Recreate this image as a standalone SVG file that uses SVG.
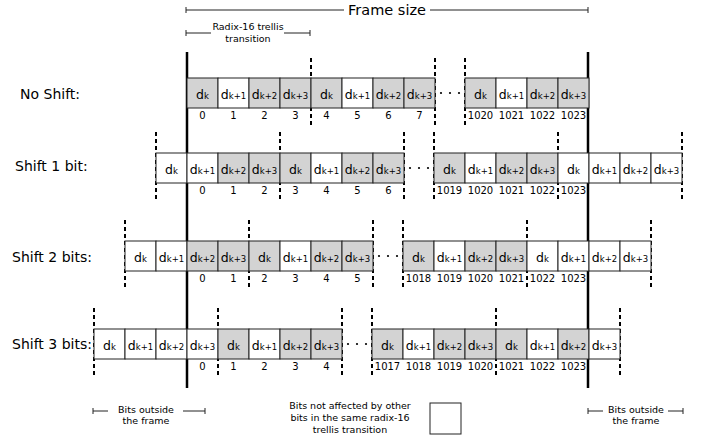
<svg xmlns="http://www.w3.org/2000/svg" width="702" height="443" viewBox="0 0 702 443">
<style>
text{font-family:"DejaVu Sans",sans-serif;fill:#000}
.lbl{font-size:14px}
.d{font-size:12.5px;text-anchor:middle}
.s{font-size:8.5px}
.n{font-size:10px;text-anchor:middle}
.sm{font-size:9.5px;text-anchor:middle}
.g{fill:#d3d3d3;stroke:#222;stroke-width:1}
.w{fill:#fff;stroke:#222;stroke-width:1}
.dash{stroke:#000;stroke-width:2;stroke-dasharray:4,3;fill:none}
.thick{stroke:#000;stroke-width:2.5;fill:none}
.ln{stroke:#222;stroke-width:1;fill:none}
.dot{fill:#000}
</style>
<rect width="702" height="443" fill="#fff"/>

<g id="header">
<path class="ln" d="M186 10H344M430 10H588M186 7V13M588 7V13"/>
<text x="387" y="15" style="text-anchor:middle;font-size:14.5px">Frame size</text>
<path class="ln" d="M186 33H211M284 33H310M186 30V36M310 30V36"/>
<text x="248" y="30" class="sm">Radix-16 trellis</text>
<text x="248" y="42" class="sm">transition</text>
</g>

<g id="connectors">
<path class="thick" d="M187 52V388M588 52V388"/>
<path class="dash" d="M311 58V125M435 58V125M465 58V125"/>
<path class="dash" d="M156 132V201M280 132V201M404 132V201M434 132V201M558 132V201M682 132V201"/>
<path class="dash" d="M125 220V289M249 220V289M373 220V289M403 220V289M527 220V289M651 220V289"/>
<path class="dash" d="M94 308V377M218 308V377M342 308V377M372 308V377M496 308V377M620 308V377"/>
</g>

<g id="row-noshift">
<text x="20" y="99" class="lbl">No Shift:</text>
<rect class="g" x="187" y="78" width="31" height="30"/><text class="d" x="202.5" y="99">d<tspan class="s">k</tspan></text><text class="n" x="202.5" y="119">0</text>
<rect class="w" x="218" y="78" width="31" height="30"/><text class="d" x="233.5" y="99">d<tspan class="s">k+1</tspan></text><text class="n" x="233.5" y="119">1</text>
<rect class="g" x="249" y="78" width="31" height="30"/><text class="d" x="264.5" y="99">d<tspan class="s">k+2</tspan></text><text class="n" x="264.5" y="119">2</text>
<rect class="g" x="280" y="78" width="31" height="30"/><text class="d" x="295.5" y="99">d<tspan class="s">k+3</tspan></text><text class="n" x="295.5" y="119">3</text>
<rect class="g" x="311" y="78" width="31" height="30"/><text class="d" x="326.5" y="99">d<tspan class="s">k</tspan></text><text class="n" x="326.5" y="119">4</text>
<rect class="w" x="342" y="78" width="31" height="30"/><text class="d" x="357.5" y="99">d<tspan class="s">k+1</tspan></text><text class="n" x="357.5" y="119">5</text>
<rect class="g" x="373" y="78" width="31" height="30"/><text class="d" x="388.5" y="99">d<tspan class="s">k+2</tspan></text><text class="n" x="388.5" y="119">6</text>
<rect class="g" x="404" y="78" width="31" height="30"/><text class="d" x="419.5" y="99">d<tspan class="s">k+3</tspan></text><text class="n" x="419.5" y="119">7</text>
<circle class="dot" cx="441" cy="93" r="1.1"/><circle class="dot" cx="450" cy="93" r="1.1"/><circle class="dot" cx="459" cy="93" r="1.1"/>
<rect class="g" x="465" y="78" width="31" height="30"/><text class="d" x="480.5" y="99">d<tspan class="s">k</tspan></text><text class="n" x="480.5" y="119">1020</text>
<rect class="w" x="496" y="78" width="31" height="30"/><text class="d" x="511.5" y="99">d<tspan class="s">k+1</tspan></text><text class="n" x="511.5" y="119">1021</text>
<rect class="g" x="527" y="78" width="31" height="30"/><text class="d" x="542.5" y="99">d<tspan class="s">k+2</tspan></text><text class="n" x="542.5" y="119">1022</text>
<rect class="g" x="558" y="78" width="31" height="30"/><text class="d" x="573.5" y="99">d<tspan class="s">k+3</tspan></text><text class="n" x="573.5" y="119">1023</text>
</g>

<g id="row-shift1">
<text x="15" y="171" class="lbl">Shift 1 bit:</text>
<rect class="w" x="156" y="153" width="31" height="30"/><text class="d" x="171.5" y="174">d<tspan class="s">k</tspan></text>
<rect class="w" x="187" y="153" width="31" height="30"/><text class="d" x="202.5" y="174">d<tspan class="s">k+1</tspan></text><text class="n" x="202.5" y="194">0</text>
<rect class="g" x="218" y="153" width="31" height="30"/><text class="d" x="233.5" y="174">d<tspan class="s">k+2</tspan></text><text class="n" x="233.5" y="194">1</text>
<rect class="g" x="249" y="153" width="31" height="30"/><text class="d" x="264.5" y="174">d<tspan class="s">k+3</tspan></text><text class="n" x="264.5" y="194">2</text>
<rect class="g" x="280" y="153" width="31" height="30"/><text class="d" x="295.5" y="174">d<tspan class="s">k</tspan></text><text class="n" x="295.5" y="194">3</text>
<rect class="w" x="311" y="153" width="31" height="30"/><text class="d" x="326.5" y="174">d<tspan class="s">k+1</tspan></text><text class="n" x="326.5" y="194">4</text>
<rect class="g" x="342" y="153" width="31" height="30"/><text class="d" x="357.5" y="174">d<tspan class="s">k+2</tspan></text><text class="n" x="357.5" y="194">5</text>
<rect class="g" x="373" y="153" width="31" height="30"/><text class="d" x="388.5" y="174">d<tspan class="s">k+3</tspan></text><text class="n" x="388.5" y="194">6</text>
<circle class="dot" cx="410" cy="168" r="1.1"/><circle class="dot" cx="419" cy="168" r="1.1"/><circle class="dot" cx="428" cy="168" r="1.1"/>
<rect class="g" x="434" y="153" width="31" height="30"/><text class="d" x="449.5" y="174">d<tspan class="s">k</tspan></text><text class="n" x="449.5" y="194">1019</text>
<rect class="w" x="465" y="153" width="31" height="30"/><text class="d" x="480.5" y="174">d<tspan class="s">k+1</tspan></text><text class="n" x="480.5" y="194">1020</text>
<rect class="g" x="496" y="153" width="31" height="30"/><text class="d" x="511.5" y="174">d<tspan class="s">k+2</tspan></text><text class="n" x="511.5" y="194">1021</text>
<rect class="g" x="527" y="153" width="31" height="30"/><text class="d" x="542.5" y="174">d<tspan class="s">k+3</tspan></text><text class="n" x="542.5" y="194">1022</text>
<rect class="w" x="558" y="153" width="31" height="30"/><text class="d" x="573.5" y="174">d<tspan class="s">k</tspan></text><text class="n" x="573.5" y="194">1023</text>
<rect class="w" x="589" y="153" width="31" height="30"/><text class="d" x="604.5" y="174">d<tspan class="s">k+1</tspan></text>
<rect class="w" x="620" y="153" width="31" height="30"/><text class="d" x="635.5" y="174">d<tspan class="s">k+2</tspan></text>
<rect class="w" x="651" y="153" width="31" height="30"/><text class="d" x="666.5" y="174">d<tspan class="s">k+3</tspan></text>
</g>

<g id="row-shift2">
<text x="12" y="262" class="lbl">Shift 2 bits:</text>
<rect class="w" x="125" y="241" width="31" height="30"/><text class="d" x="140.5" y="262">d<tspan class="s">k</tspan></text>
<rect class="w" x="156" y="241" width="31" height="30"/><text class="d" x="171.5" y="262">d<tspan class="s">k+1</tspan></text>
<rect class="g" x="187" y="241" width="31" height="30"/><text class="d" x="202.5" y="262">d<tspan class="s">k+2</tspan></text><text class="n" x="202.5" y="282">0</text>
<rect class="g" x="218" y="241" width="31" height="30"/><text class="d" x="233.5" y="262">d<tspan class="s">k+3</tspan></text><text class="n" x="233.5" y="282">1</text>
<rect class="g" x="249" y="241" width="31" height="30"/><text class="d" x="264.5" y="262">d<tspan class="s">k</tspan></text><text class="n" x="264.5" y="282">2</text>
<rect class="w" x="280" y="241" width="31" height="30"/><text class="d" x="295.5" y="262">d<tspan class="s">k+1</tspan></text><text class="n" x="295.5" y="282">3</text>
<rect class="g" x="311" y="241" width="31" height="30"/><text class="d" x="326.5" y="262">d<tspan class="s">k+2</tspan></text><text class="n" x="326.5" y="282">4</text>
<rect class="g" x="342" y="241" width="31" height="30"/><text class="d" x="357.5" y="262">d<tspan class="s">k+3</tspan></text><text class="n" x="357.5" y="282">5</text>
<circle class="dot" cx="379" cy="256" r="1.1"/><circle class="dot" cx="388" cy="256" r="1.1"/><circle class="dot" cx="397" cy="256" r="1.1"/>
<rect class="g" x="403" y="241" width="31" height="30"/><text class="d" x="418.5" y="262">d<tspan class="s">k</tspan></text><text class="n" x="418.5" y="282">1018</text>
<rect class="w" x="434" y="241" width="31" height="30"/><text class="d" x="449.5" y="262">d<tspan class="s">k+1</tspan></text><text class="n" x="449.5" y="282">1019</text>
<rect class="g" x="465" y="241" width="31" height="30"/><text class="d" x="480.5" y="262">d<tspan class="s">k+2</tspan></text><text class="n" x="480.5" y="282">1020</text>
<rect class="g" x="496" y="241" width="31" height="30"/><text class="d" x="511.5" y="262">d<tspan class="s">k+3</tspan></text><text class="n" x="511.5" y="282">1021</text>
<rect class="w" x="527" y="241" width="31" height="30"/><text class="d" x="542.5" y="262">d<tspan class="s">k</tspan></text><text class="n" x="542.5" y="282">1022</text>
<rect class="w" x="558" y="241" width="31" height="30"/><text class="d" x="573.5" y="262">d<tspan class="s">k+1</tspan></text><text class="n" x="573.5" y="282">1023</text>
<rect class="w" x="589" y="241" width="31" height="30"/><text class="d" x="604.5" y="262">d<tspan class="s">k+2</tspan></text>
<rect class="w" x="620" y="241" width="31" height="30"/><text class="d" x="635.5" y="262">d<tspan class="s">k+3</tspan></text>
</g>

<g id="row-shift3">
<text x="12" y="349" class="lbl">Shift 3 bits:</text>
<rect class="w" x="94" y="329" width="31" height="30"/><text class="d" x="109.5" y="350">d<tspan class="s">k</tspan></text>
<rect class="w" x="125" y="329" width="31" height="30"/><text class="d" x="140.5" y="350">d<tspan class="s">k+1</tspan></text>
<rect class="w" x="156" y="329" width="31" height="30"/><text class="d" x="171.5" y="350">d<tspan class="s">k+2</tspan></text>
<rect class="w" x="187" y="329" width="31" height="30"/><text class="d" x="202.5" y="350">d<tspan class="s">k+3</tspan></text><text class="n" x="202.5" y="370">0</text>
<rect class="g" x="218" y="329" width="31" height="30"/><text class="d" x="233.5" y="350">d<tspan class="s">k</tspan></text><text class="n" x="233.5" y="370">1</text>
<rect class="w" x="249" y="329" width="31" height="30"/><text class="d" x="264.5" y="350">d<tspan class="s">k+1</tspan></text><text class="n" x="264.5" y="370">2</text>
<rect class="g" x="280" y="329" width="31" height="30"/><text class="d" x="295.5" y="350">d<tspan class="s">k+2</tspan></text><text class="n" x="295.5" y="370">3</text>
<rect class="g" x="311" y="329" width="31" height="30"/><text class="d" x="326.5" y="350">d<tspan class="s">k+3</tspan></text><text class="n" x="326.5" y="370">4</text>
<circle class="dot" cx="348" cy="344" r="1.1"/><circle class="dot" cx="357" cy="344" r="1.1"/><circle class="dot" cx="366" cy="344" r="1.1"/>
<rect class="g" x="372" y="329" width="31" height="30"/><text class="d" x="387.5" y="350">d<tspan class="s">k</tspan></text><text class="n" x="387.5" y="370">1017</text>
<rect class="w" x="403" y="329" width="31" height="30"/><text class="d" x="418.5" y="350">d<tspan class="s">k+1</tspan></text><text class="n" x="418.5" y="370">1018</text>
<rect class="g" x="434" y="329" width="31" height="30"/><text class="d" x="449.5" y="350">d<tspan class="s">k+2</tspan></text><text class="n" x="449.5" y="370">1019</text>
<rect class="g" x="465" y="329" width="31" height="30"/><text class="d" x="480.5" y="350">d<tspan class="s">k+3</tspan></text><text class="n" x="480.5" y="370">1020</text>
<rect class="g" x="496" y="329" width="31" height="30"/><text class="d" x="511.5" y="350">d<tspan class="s">k</tspan></text><text class="n" x="511.5" y="370">1021</text>
<rect class="w" x="527" y="329" width="31" height="30"/><text class="d" x="542.5" y="350">d<tspan class="s">k+1</tspan></text><text class="n" x="542.5" y="370">1022</text>
<rect class="g" x="558" y="329" width="31" height="30"/><text class="d" x="573.5" y="350">d<tspan class="s">k+2</tspan></text><text class="n" x="573.5" y="370">1023</text>
<rect class="w" x="589" y="329" width="31" height="30"/><text class="d" x="604.5" y="350">d<tspan class="s">k+3</tspan></text>
</g>

<g id="legend-left">
<path class="ln" d="M93 411H108M93 408V414M183 411H205M205 408V414"/>
<text x="146" y="413" class="sm">Bits outside</text>
<text x="146" y="424" class="sm">the frame</text>
</g>
<g id="legend-middle">
<text x="350" y="409" class="sm">Bits not affected by other</text>
<text x="350" y="421" class="sm">bits in the same radix-16</text>
<text x="350" y="433" class="sm">trellis transition</text>
<rect x="430" y="403" width="31" height="31" fill="#fff" stroke="#222" stroke-width="1"/>
</g>
<g id="legend-right">
<path class="ln" d="M588 411H603M588 408V414M668 411H683M683 408V414"/>
<text x="636" y="413" class="sm">Bits outside</text>
<text x="636" y="424" class="sm">the frame</text>
</g>
</svg>
